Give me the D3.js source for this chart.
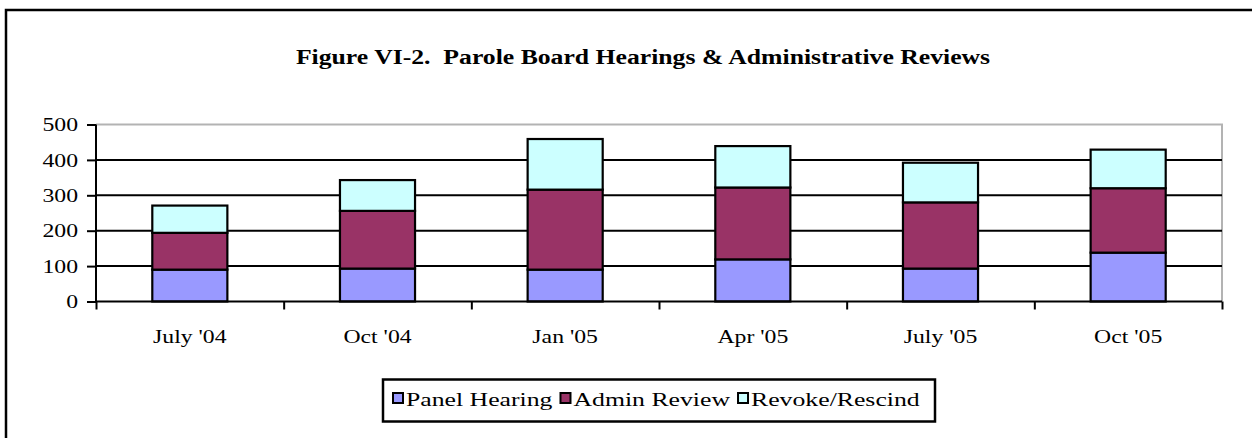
<!DOCTYPE html>
<html>
<head>
<meta charset="utf-8">
<style>
  body { margin: 0; background: #fff; }
  svg { display: block; }
  text { font-family: "Liberation Serif", "Times New Roman", serif; fill: #000; }
</style>
</head>
<body>
<script src="https://d3js.org/d3.v7.min.js"></script>
<svg width="1252" height="438"></svg>
<script>
const months = ["July '04", "Oct '04", "Jan '05", "Apr '05", "July '05", "Oct '05"]
const panelHearing = [90, 93, 90, 119, 93, 138]
const adminReview = [104, 163, 226, 203, 187, 182]
const revokeRescind = [77, 87, 143, 117, 112, 109]
const seriesNames = ["Panel Hearing", "Admin Review", "Revoke/Rescind"]
const seriesColors = ["#9999ff", "#993366", "#ccffff"]
const yTicks = [0, 100, 200, 300, 400, 500]

// the source image is stretched sideways, so text gets widened the same way
const SX = 1.32
const fs = 18

const svg = d3.select("svg")

// outer chart frame (right/bottom edges run off the picture)
svg.append("rect")
    .attr("x", 6).attr("y", 10)
    .attr("width", 1400).attr("height", 600)
    .attr("fill", "none").attr("stroke", "#000").attr("stroke-width", 2.5)

const plotL = 96, plotR = 1222, plotT = 124.5, plotB = 301.5

const data = months.map((m, i) => ({
    month: m,
    "Panel Hearing": panelHearing[i],
    "Admin Review": adminReview[i],
    "Revoke/Rescind": revokeRescind[i]
}))
const stacked = d3.stack().keys(seriesNames)(data)

const xScale = d3.scaleBand().domain(months).range([plotL, plotR])
    .paddingInner(0.6).paddingOuter(0.3)
const yScale = d3.scaleLinear().domain([0, 500]).range([plotB, plotT])
const edgeScale = d3.scaleLinear().domain([0, months.length]).range([plotL, plotR])

function stretchText(sel, x, y, sx) {
    sel.attr("transform", `translate(${x},${y}) scale(${sx || SX},1)`)
}

// title
svg.append("text")
    .text("Figure VI-2.  Parole Board Hearings & Administrative Reviews")
    .attr("text-anchor", "middle")
    .attr("font-size", 20)
    .attr("font-weight", "bold")
    .style("white-space", "pre")
    .call(stretchText, 643, 64, 1.285)

// plot area border (gray top & right)
svg.append("path")
    .attr("d", `M${plotL},${plotT}H${plotR}V${plotB}`)
    .attr("fill", "none").attr("stroke", "#b3b3b3").attr("stroke-width", 2)

// gridlines
svg.append("g").selectAll("line")
    .data(yTicks.filter(t => t > 0 && t < 500))
    .enter().append("line")
    .attr("x1", plotL).attr("x2", plotR)
    .attr("y1", d => yScale(d)).attr("y2", d => yScale(d))
    .attr("stroke", "#000").attr("stroke-width", 2)

// bars
svg.append("g").selectAll("g")
    .data(stacked)
    .enter().append("g")
    .attr("fill", (d, i) => seriesColors[i])
    .selectAll("rect")
    .data(d => d)
    .enter().append("rect")
    .attr("x", d => xScale(d.data.month))
    .attr("width", xScale.bandwidth())
    .attr("y", d => yScale(d[1]))
    .attr("height", d => yScale(d[0]) - yScale(d[1]))
    .attr("stroke", "#000").attr("stroke-width", 2.2)

// y axis
const yAxis = d3.axisLeft(yScale).tickValues(yTicks).tickSize(9).tickPadding(9)
const yG = svg.append("g").attr("transform", `translate(${plotL},0)`).call(yAxis)
yG.select(".domain").attr("stroke", "#000").attr("stroke-width", 2).attr("d", `M0,${plotT}V${plotB}`)
yG.selectAll(".tick line").attr("stroke", "#000").attr("stroke-width", 2)
yG.selectAll(".tick text")
    .attr("font-size", fs).attr("font-family", null)
    .attr("x", -18 / SX).attr("dy", "0.34em")
    .attr("transform", `scale(${SX},1)`)

// x axis: tick marks at category edges, labels at centres
const xTickAxis = d3.axisBottom(edgeScale).ticks(months.length).tickSize(8).tickFormat("")
const xG = svg.append("g").attr("transform", `translate(0,${plotB})`).call(xTickAxis)
xG.select(".domain").attr("stroke", "#000").attr("stroke-width", 2).attr("d", `M${plotL},0H${plotR}`)
xG.selectAll(".tick line").attr("stroke", "#000").attr("stroke-width", 2)

svg.append("g").selectAll("text")
    .data(months)
    .enter().append("text")
    .text(d => d)
    .attr("text-anchor", "middle")
    .attr("font-size", fs)
    .each(function(d) {
        d3.select(this).call(stretchText, xScale(d) + xScale.bandwidth() / 2, plotB + 41.5)
    })

// legend
const legend = svg.append("g")
legend.append("rect")
    .attr("x", 383).attr("y", 379.5)
    .attr("width", 552).attr("height", 42)
    .attr("fill", "#fff").attr("stroke", "#000").attr("stroke-width", 2.5)

let lx = 393
seriesNames.forEach((name, i) => {
    legend.append("rect")
        .attr("x", lx).attr("y", 393)
        .attr("width", 10).attr("height", 10)
        .attr("fill", seriesColors[i]).attr("stroke", "#000").attr("stroke-width", 2)
    const t = legend.append("text")
        .text(name)
        .attr("font-size", 19.5)
        .call(stretchText, lx + 13, 405.5)
    lx += 13 + t.node().getComputedTextLength() * SX + 8
})
</script>
</body>
</html>
